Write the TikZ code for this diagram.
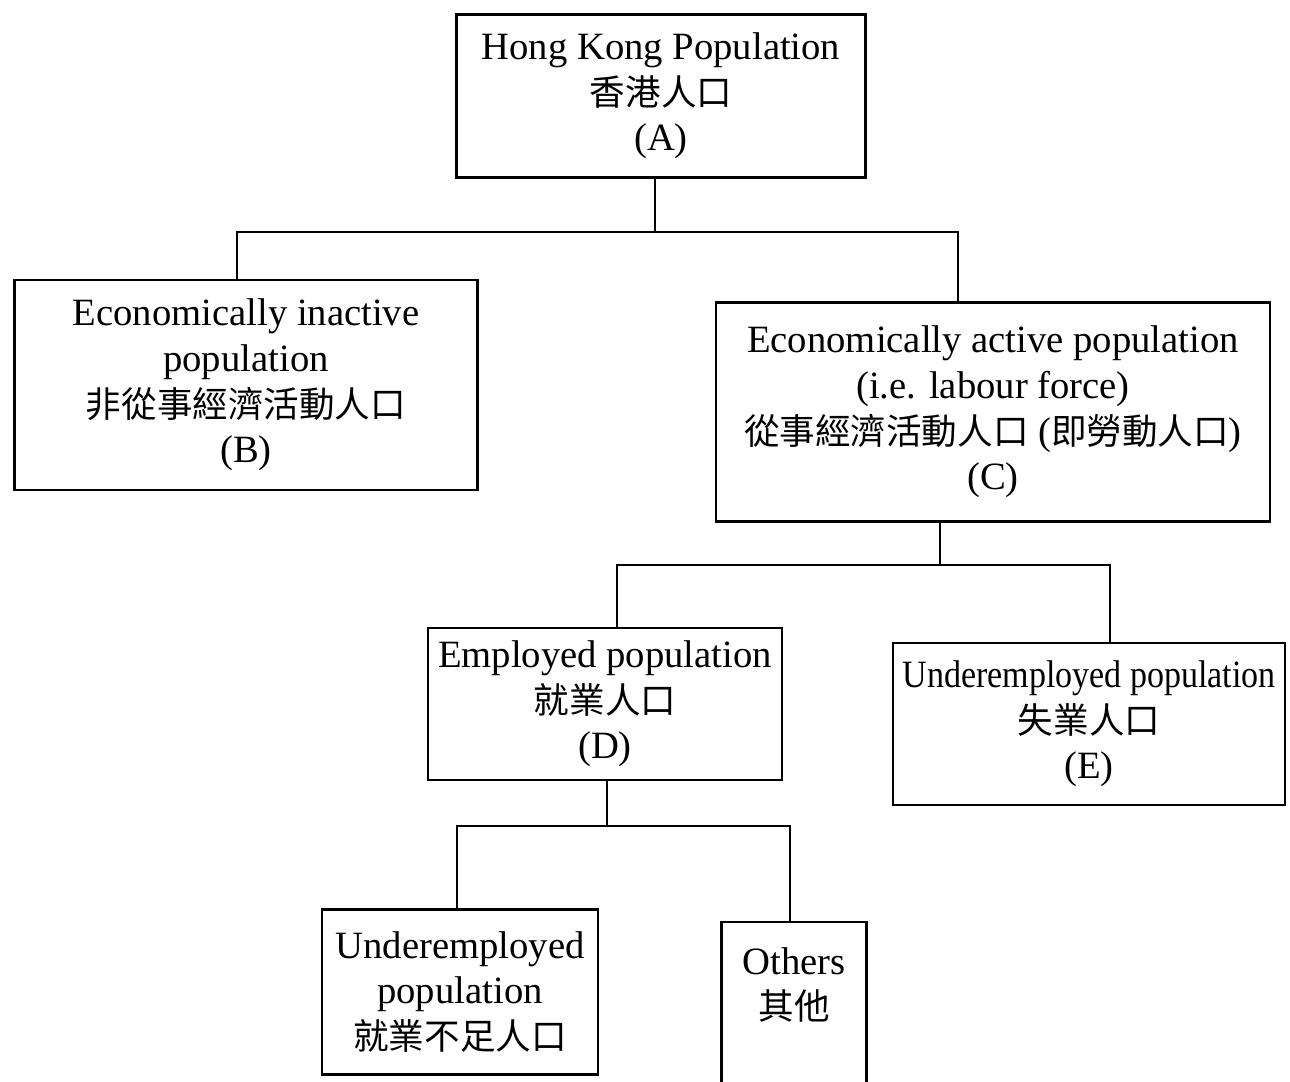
\documentclass[tikz,border=0pt]{standalone}
\usepackage{fontspec}
\setmainfont{Liberation Serif}
\newfontfamily\cjk[Scale=0.92]{Noto Sans CJK TC}
\usetikzlibrary{positioning}

\begin{document}
\begin{tikzpicture}[x=0.02cm,y=-0.02cm,line width=1.3pt,font=\fontsize{22}{26}\selectfont]
        \clip (0,0) rectangle (1290,1081);
        \begin{scope}[every node/.style={rectangle,draw,align=center,inner sep=0pt}]
            \node[minimum width=8.18cm,minimum height=3.26cm] (a) at (661,96) {Hong Kong Population\\{\cjk 香港人口}\\(A)};
            \node[minimum width=9.26cm,minimum height=4.2cm] (b) at (246,385) {Economically inactive\\population\\{\cjk 非從事經濟活動人口}\\(B)};
            \node[minimum width=11.08cm,minimum height=4.38cm] (c) at (993,412) {Economically active population\\(i.e. labour force)\\{\cjk 從事經濟活動人口} ({\cjk 即勞動人口})\\(C)};
            \node[minimum width=7.08cm,minimum height=3.04cm] (d) at (605,704) {Employed population\\{\cjk 就業人口}\\(D)};
            \node[minimum width=7.84cm,minimum height=3.24cm] (e) at (1089,724) {\scalebox{0.88}[1]{Underemployed population}\\{\cjk 失業人口}\\(E)};
            \node[minimum width=5.52cm,minimum height=3.3cm] (f) at (460,992) {Underemployed\\population\\{\cjk 就業不足人口}};
            \node[minimum width=2.9cm,minimum height=3.76cm,text depth=1.3cm] (g) at (794,1016) {Others\\{\cjk 其他}};
        \end{scope}
        % junctions
        \coordinate (ja) at (655,232);
        \coordinate (jc) at (940,565);
        \coordinate (jd) at (607,826);
        \begin{scope}[every path/.style={draw}]
            \path [-] (a.south -| ja) -- (ja);
            \path [-] (b.north -| 237,0) |- (ja) -| ([shift={(-35,0)}]c.north);
            \path [-] ([shift={(-53,0)}]c.south) -- (jc);
            \path [-] ([shift={(12,0)}]d.north) |- (jc) -| ([shift={(21,0)}]e.north);
            \path [-] (d.south -| jd) -- (jd);
            \path [-] ([shift={(-3,0)}]f.north) |- (jd) -| ([shift={(-4,0)}]g.north);
        \end{scope}
    \end{tikzpicture}
\end{document}
